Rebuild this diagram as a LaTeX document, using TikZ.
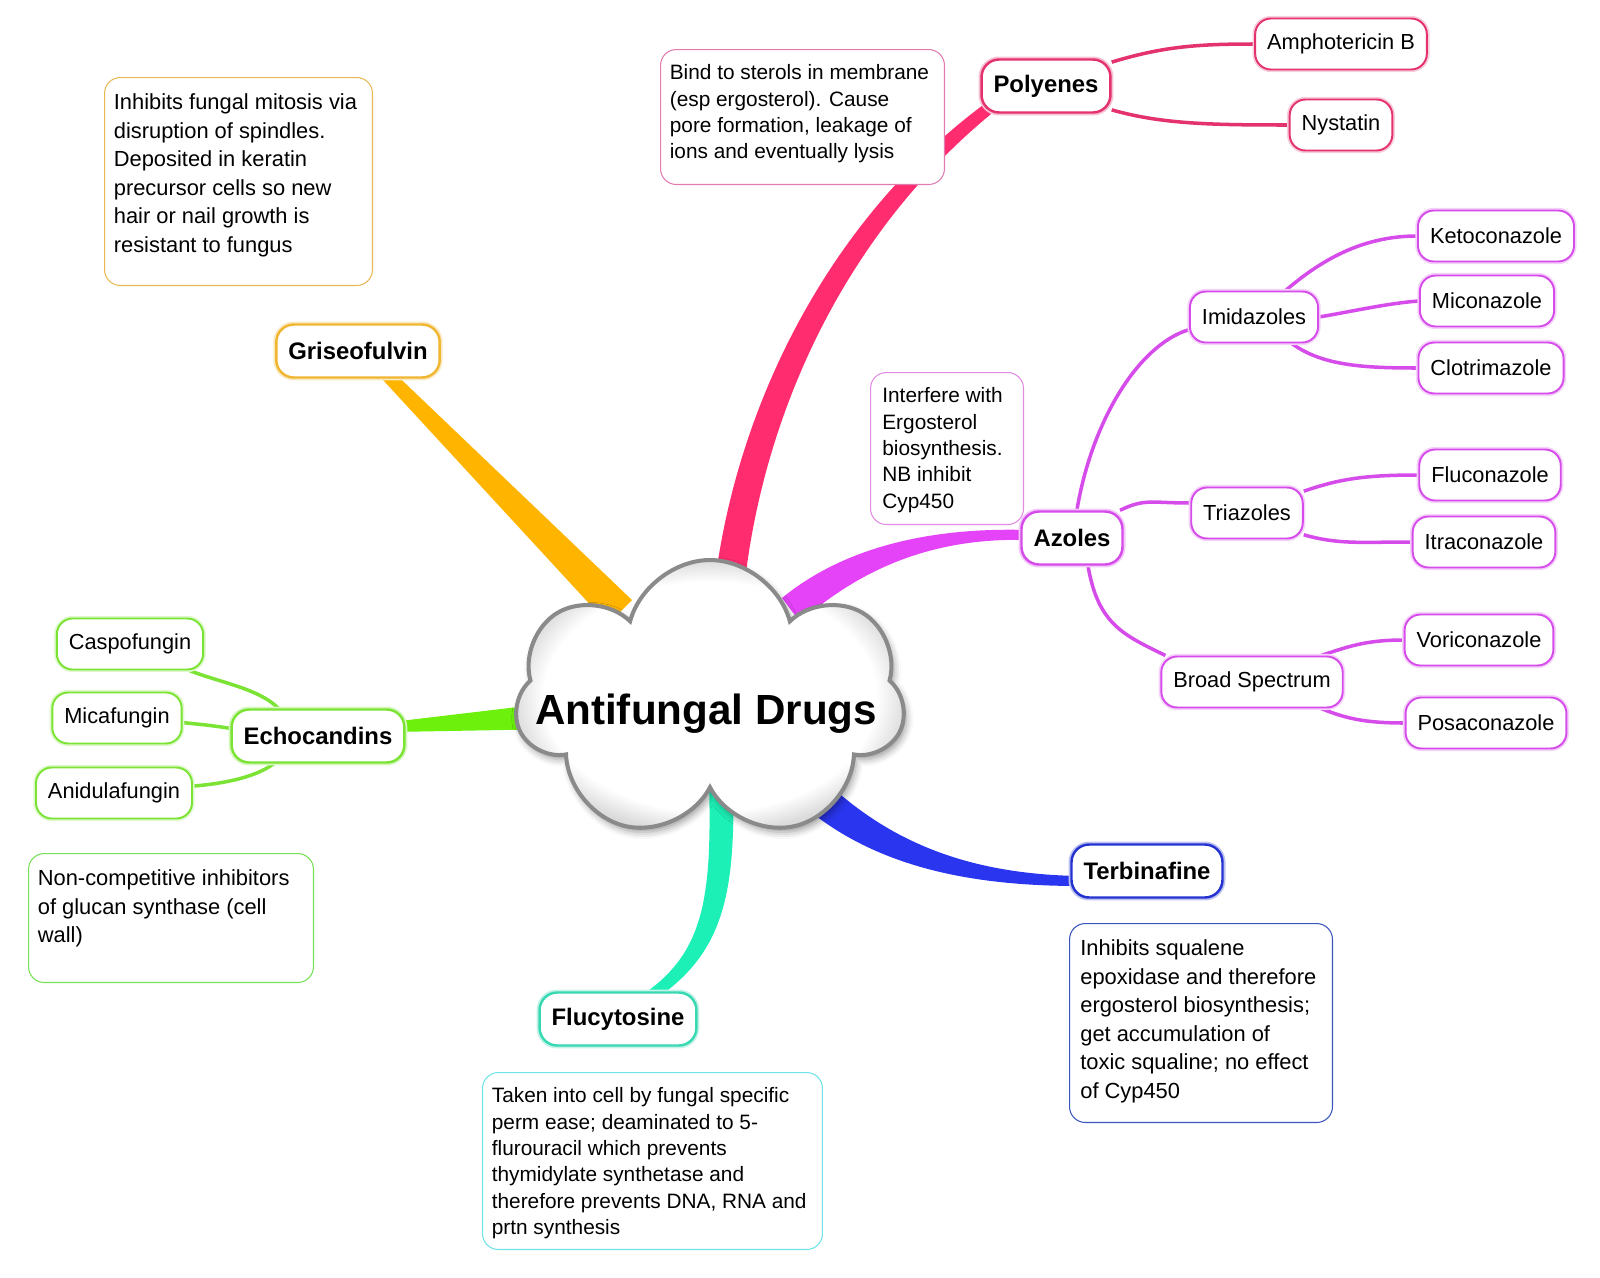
\documentclass[tikz,border=0pt]{standalone}
\usepackage{fontspec}
\setmainfont{Liberation Sans}
\usetikzlibrary{shapes.symbols, calc, backgrounds, shadows.blur}

\definecolor{polyfill}{HTML}{FF2D6F}
\definecolor{polyedge}{HTML}{E3326D}
\definecolor{polynote}{HTML}{E27BB0}
\definecolor{grisefill}{HTML}{FFB500}
\definecolor{griseedge}{HTML}{F0B631}
\definecolor{grisenote}{HTML}{E9BA54}
\definecolor{azolefill}{HTML}{E443F7}
\definecolor{azoleedge}{HTML}{D64CEA}
\definecolor{azolenote}{HTML}{E18CE3}
\definecolor{echofill}{HTML}{6CF00C}
\definecolor{echoedge}{HTML}{7BE334}
\definecolor{echonote}{HTML}{76E156}
\definecolor{terbifill}{HTML}{2A35F0}
\definecolor{terbiedge}{HTML}{2433D0}
\definecolor{terbinote}{HTML}{3A55BE}
\definecolor{flucyfill}{HTML}{1DF0B6}
\definecolor{flucyedge}{HTML}{38D8B2}
\definecolor{flucynote}{HTML}{6EE3E8}
\definecolor{cloudline}{HTML}{8A8A8A}

\pgfdeclareradialshading{cloudglow}{\pgfpoint{0bp}{0bp}}{color(0bp)=(white); color(21bp)=(white); color(25bp)=(gray!28); color(50bp)=(gray!28)}

\begin{document}
\begin{tikzpicture}[
    x=0.02cm, y=-0.02cm,
    leaf/.style={draw=#1, fill=white, line width=1.1pt, rounded corners=9pt, minimum height=1.02cm, inner xsep=0.24cm, font=\fontsize{12.4}{15}\selectfont, preaction={draw=#1!25, line width=3pt}},
    branch/.style={draw=#1, fill=white, line width=1.4pt, rounded corners=10pt, minimum height=1.06cm, inner xsep=0.24cm, font=\bfseries\fontsize{13.6}{16}\selectfont, preaction={draw=#1!30, line width=3.4pt}},
    note/.style={draw=#1, fill=white, line width=0.6pt, rounded corners=9pt, anchor=north west},
    notebig/.style={anchor=north west, align=left, inner xsep=0.19cm, inner ysep=0.33cm, font=\fontsize{12.45}{16.2}\selectfont},
    notesmall/.style={anchor=north west, align=left, inner xsep=0.19cm, inner ysep=0.31cm, font=\fontsize{11.85}{14.95}\selectfont},
    twig/.style={draw=#1, line width=2pt}
]
\useasboundingbox (0,0) rectangle (1600,1278);

% Zentrum
\node (core) [cloud, cloud puffs=7, cloud ignores aspect, minimum width=7.8cm, minimum height=5.6cm, inner sep=0pt, draw=cloudline, line width=2.3pt, shading=cloudglow, blur shadow={shadow xshift=1.5pt, shadow yshift=-2.5pt, shadow blur radius=4pt}] at (710,700) {};
\node (title) [anchor=base, font=\bfseries\fontsize{24}{28}\selectfont] at (706,724) {Antifungal Drugs};

% Polyenes
\node (polyenes) [branch=polyedge] at (1046,86) {Polyenes};
\node (amphob) [leaf=polyedge] at (1341,44) {Amphotericin B};
\node (nystatin) [leaf=polyedge] at (1341,125) {Nystatin};

% Griseofulvin
\node (griseo) [branch=griseedge] at (358,351) {Griseofulvin};

% Azoles
\node (azoles) [branch=azoleedge] at (1072,538) {Azoles};
\node (imid) [leaf=azoleedge] at (1254,317) {Imidazoles};
\node (triaz) [leaf=azoleedge] at (1247,513) {Triazoles};
\node (broad) [leaf=azoleedge] at (1252,682) {Broad Spectrum};
\node (keto) [leaf=azoleedge] at (1496,236) {Ketoconazole};
\node (mico) [leaf=azoleedge] at (1487,301) {Miconazole};
\node (clotri) [leaf=azoleedge] at (1491,368) {Clotrimazole};
\node (fluco) [leaf=azoleedge] at (1490,475) {Fluconazole};
\node (itra) [leaf=azoleedge] at (1484,542) {Itraconazole};
\node (vori) [leaf=azoleedge] at (1479,640) {Voriconazole};
\node (posa) [leaf=azoleedge] at (1486,723) {Posaconazole};

% Echocandins
\node (echo) [branch=echoedge] at (318,736) {Echocandins};
\node (caspo) [leaf=echoedge] at (130,644) {Caspofungin};
\node (mica) [leaf=echoedge] at (117,718) {Micafungin};
\node (anidula) [leaf=echoedge] at (114,793) {Anidulafungin};

% Terbinafine, Flucytosine
\node (terbi) [branch=terbiedge] at (1147,871) {Terbinafine};
\node (flucy) [branch=flucyedge] at (618,1019) {Flucytosine};

% Notizen
\node (grisenote) [note=grisenote, minimum width=5.36cm, minimum height=4.16cm, label={[notebig]north west:{Inhibits fungal mitosis via\\disruption of spindles.\\Deposited in keratin\\precursor cells so new\\hair or nail growth is\\resistant to fungus}}] at (104,77) {};
\node (polynote) [note=polynote, minimum width=5.68cm, minimum height=2.7cm, label={[notesmall]north west:{Bind to sterols in membrane\\(esp ergosterol). Cause\\pore formation, leakage of\\ions and eventually lysis}}] at (660,49) {};
\node (azolenote) [note=azolenote, minimum width=3.06cm, minimum height=3.04cm, label={[notesmall, inner xsep=0.24cm]north west:{Interfere with\\Ergosterol\\biosynthesis.\\NB inhibit\\Cyp450}}] at (870,372) {};
\node (echonote) [note=echonote, minimum width=5.7cm, minimum height=2.58cm, label={[notebig]north west:{Non-competitive inhibitors\\of glucan synthase (cell\\wall)}}] at (28,853) {};
\node (terbinote) [note=terbinote, minimum width=5.26cm, minimum height=3.98cm, label={[notebig, inner xsep=0.22cm]north west:{Inhibits squalene\\epoxidase and therefore\\ergosterol biosynthesis;\\get accumulation of\\toxic squaline; no effect\\of Cyp450}}] at (1069,923) {};
\node (flucynote) [note=flucynote, minimum width=6.8cm, minimum height=3.54cm, label={[notesmall]north west:{Taken into cell by fungal specific\\perm ease; deaminated to 5-\\flurouracil which prevents\\thymidylate synthetase and\\therefore prevents DNA, RNA and\\prtn synthesis}}] at (482,1072) {};

\begin{scope}[on background layer]
    % Hauptaeste
    \fill [polyfill] ($(core)+(3,-100)$) .. controls +(18,-182) and +(-166,120) .. ($(polyenes.south west)+(10,-14)$) -- ($(polyenes.south west)+(16,-4)$) .. controls +(-154,124) and +(16,-178) .. ($(core)+(33,-100)$) -- cycle;
    \fill [grisefill] ($(griseo.south)+(32,-10)$) -- ($(core)+(-78,-100)$) -- ($(core)+(-102,-76)$) -- ($(griseo.south)+(22,-2)$) -- cycle;
    \fill [azolefill] ($(core)+(72,-102)$) .. controls +(61,-50) and +(-100,-3) .. ($(azoles.west)+(8,-8)$) -- ($(azoles.west)+(8,2)$) .. controls +(-100,-3) and +(57,-50) .. ($(core)+(90,-78)$) -- cycle;
    \fill [echofill] ($(core)+(-150,2)$) -- ($(echo.east)+(-14,-14)$) -- ($(echo.east)+(-14,-4)$) -- ($(core)+(-150,29)$) -- cycle;
    \fill [terbifill] ($(core)+(102,68)$) .. controls +(68,70) and +(-118,-2) .. ($(terbi.west)+(9,5)$) -- ($(terbi.west)+(9,15)$) .. controls +(-122,0) and +(72,70) .. ($(core)+(78,92)$) -- cycle;
    \fill [flucyfill] ($(core)+(-1,80)$) .. controls +(3,120) and +(73,-43) .. ($(flucy.north)+(14,10)$) -- ($(flucy.north)+(28,14)$) .. controls +(76,-47) and +(3,120) .. ($(core)+(23,80)$) -- cycle;

    % Nebenaeste
    \draw [twig=polyedge] (polyenes.20) .. controls +(50,-15) and +(-60,0) .. (amphob.west);
    \draw [twig=polyedge] (polyenes.-20) .. controls +(50,14) and +(-80,0) .. (nystatin.west);

    \draw [twig=azoleedge] (azoles.80) .. controls +(15,-90) and +(-50,15) .. (imid.191);
    \draw [twig=azoleedge] (azoles.30) .. controls +(25,-12) and +(-40,0) .. (triaz.170);
    \draw [twig=azoleedge] (azoles.-60) .. controls +(10,60) and +(-40,-20) .. (broad.163);
    \draw [twig=azoleedge] (imid.40) .. controls +(35,-30) and +(-55,0) .. (keto.west);
    \draw [twig=azoleedge] (imid.east) .. controls +(30,-5) and +(-30,2) .. (mico.west);
    \draw [twig=azoleedge] (imid.-35) .. controls +(30,22) and +(-55,0) .. (clotri.west);
    \draw [twig=azoleedge] (triaz.21) .. controls +(35,-12) and +(-55,0) .. (fluco.west);
    \draw [twig=azoleedge] (triaz.-21) .. controls +(35,10) and +(-50,0) .. (itra.west);
    \draw [twig=azoleedge] (broad.21) .. controls +(25,-8) and +(-40,0) .. (vori.west);
    \draw [twig=azoleedge] (broad.-21) .. controls +(25,10) and +(-40,0) .. (posa.west);

    \draw [twig=echoedge] (echo.145) .. controls +(-20,-20) and +(30,12) .. (caspo.-24);
    \draw [twig=echoedge] (echo.175) .. controls +(-20,-3) and +(20,2) .. (mica.-4);
    \draw [twig=echoedge] (echo.-148) .. controls +(-20,15) and +(25,-2) .. (anidula.5);
\end{scope}

\end{tikzpicture}
\end{document}
